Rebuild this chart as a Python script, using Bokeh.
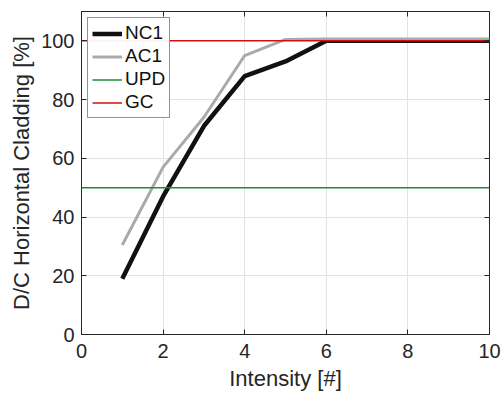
from bokeh.plotting import figure
from bokeh.models import Range1d, LinearAxis, FixedTicker, Legend, LegendItem, CustomJSTickFormatter
from bokeh.embed import file_html
from bokeh.resources import INLINE

intensity = [1, 2, 3, 4, 5, 6, 7, 8, 9, 10]
nc1 = [19, 47, 71, 88, 93, 100, 100, 100, 100, 100]
ac1 = [30.5, 57, 74, 95, 100.5, 100.6, 100.6, 100.6, 100.6, 100.6]
upd_level = 50
gc_level = 100
x_ticks = [0, 2, 4, 6, 8, 10]
y_ticks = [0, 20, 40, 60, 80, 100]

FONT = "Liberation Sans"
TXT = "#262626"

p = figure(width=504, height=393, output_backend="svg", toolbar_location=None,
           x_range=Range1d(0, 10), y_range=Range1d(0, 110),
           min_border_left=81, min_border_right=15, min_border_top=11, min_border_bottom=59)
p.outline_line_color = TXT
p.outline_line_width = 1
p.background_fill_color = "white"
p.border_fill_color = "white"

bottom_ax = p.below[0]
left_ax = p.left[0]

# mirrored tick axes (top / right), no labels
blank = CustomJSTickFormatter(code="return '';")
top_ax = LinearAxis(ticker=FixedTicker(ticks=x_ticks), formatter=blank,
                    major_label_standoff=0, axis_line_color=None)
right_ax = LinearAxis(ticker=FixedTicker(ticks=y_ticks), formatter=blank,
                      major_label_standoff=0, axis_line_color=None)
p.add_layout(top_ax, "above")
p.add_layout(right_ax, "right")

for ax in (bottom_ax, left_ax, top_ax, right_ax):
    ax.major_tick_in = 5
    ax.major_tick_out = 0
    ax.minor_tick_out = 0
    ax.minor_tick_in = 0
    ax.major_tick_line_color = TXT
for ax in (bottom_ax, left_ax):
    ax.axis_line_color = TXT
    ax.major_label_text_font = FONT
    ax.major_label_text_font_size = "20px"
    ax.major_label_text_color = TXT
    ax.axis_label_text_font = FONT
    ax.axis_label_text_font_size = "22px"
    ax.axis_label_text_font_style = "normal"
    ax.axis_label_text_color = TXT
bottom_ax.ticker = FixedTicker(ticks=x_ticks)
left_ax.ticker = FixedTicker(ticks=y_ticks)
bottom_ax.axis_label = "Intensity [#]"
left_ax.axis_label = "D/C Horizontal Cladding [%]"
bottom_ax.major_label_standoff = 9
left_ax.major_label_standoff = 7
bottom_ax.axis_label_standoff = 5
left_ax.axis_label_standoff = 4

p.xgrid.ticker = FixedTicker(ticks=x_ticks)
p.ygrid.ticker = FixedTicker(ticks=y_ticks)
p.grid.grid_line_color = "#e3e3e3"
p.grid.grid_line_width = 1

r_nc1 = p.line(intensity, nc1, line_color="#111111", line_width=4.5)
r_ac1 = p.line(intensity, ac1, line_color="#aaaaaa", line_width=3)
r_upd = p.line([0, 10], [upd_level, upd_level], line_color="#1f8a3c", line_width=1.5)
r_gc = p.line([0, 10], [gc_level, gc_level], line_color="#d01010", line_width=1.5)

legend = Legend(items=[LegendItem(label="NC1", renderers=[r_nc1]),
                       LegendItem(label="AC1", renderers=[r_ac1]),
                       LegendItem(label="UPD", renderers=[r_upd]),
                       LegendItem(label="GC", renderers=[r_gc])],
                location="top_left")
legend.label_text_font = FONT
legend.label_text_font_size = "19px"
legend.label_text_color = "#111111"
legend.border_line_color = "#262626"
legend.border_line_width = 1
legend.margin = 6
legend.padding = 4
legend.spacing = 1
legend.glyph_width = 30
legend.glyph_height = 21
legend.label_standoff = 3
legend.label_height = 21
p.add_layout(legend)

open("out.html", "w").write(file_html(p, INLINE))
